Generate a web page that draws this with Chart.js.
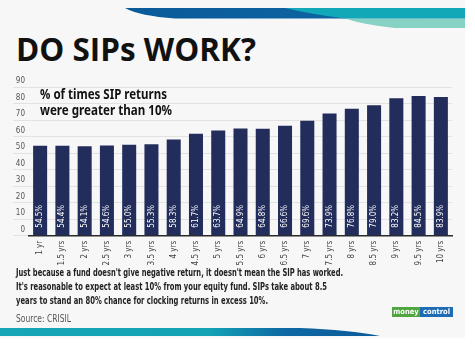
<!DOCTYPE html>
<html>
<head>
<meta charset="utf-8">
<script src="https://cdn.jsdelivr.net/npm/chart.js@4/dist/chart.umd.min.js"></script>
<style>
  html,body{margin:0;padding:0;background:#ffffff;width:475px;height:354px;overflow:hidden;}
  #panel{position:absolute;left:0;top:0;width:465px;height:338px;background:#f7f7f7;}
  .fit{position:absolute;white-space:nowrap;transform-origin:0 0;}
  #title{left:16px;top:29px;font-family:"Open Sans",sans-serif;font-weight:700;font-size:33px;color:#111;line-height:40px;}
  .inset{left:40px;font-family:"Noto Sans",sans-serif;font-weight:bold;font-size:13.5px;color:#111;line-height:16px;}
  .note{left:16px;font-family:"Liberation Sans Narrow","DejaVu Sans Condensed",sans-serif;font-weight:bold;font-size:10px;color:#222;line-height:12px;}
  #src{left:16px;top:313px;font-family:"Liberation Sans Narrow","DejaVu Sans Condensed",sans-serif;font-size:10px;color:#555;line-height:12px;}
  #logo{position:absolute;left:392px;top:307px;height:10px;font-family:"DejaVu Sans Condensed",sans-serif;font-weight:bold;font-size:7.5px;line-height:10px;color:#fff;display:flex;}
  #logo span{display:block;text-align:center;overflow:hidden;}
  canvas{position:absolute;left:0;top:70px;}
  svg{position:absolute;left:0;top:0;}
</style>
</head>
<body>
<div id="panel"></div>
<svg width="475" height="354">
  <defs>
    <linearGradient id="tg" x1="0" x2="1" y1="0" y2="0">
      <stop offset="0" stop-color="#0a5a98"/>
      <stop offset="1" stop-color="#0e6aa6"/>
    </linearGradient>
    <linearGradient id="bg" x1="0" x2="1" y1="0" y2="0">
      <stop offset="0" stop-color="#16a6b6"/>
      <stop offset="0.55" stop-color="#14a2b5"/>
      <stop offset="0.75" stop-color="#0d68a4"/>
      <stop offset="1" stop-color="#0b5a98"/>
    </linearGradient>
  </defs>
  <path d="M125,8 L465,8 L465,18.5 L175,18.5 Q140,16 125,8 Z" fill="url(#tg)"/>
  <path d="M285,8 L465,8 L465,18.5 L345,18.5 Q310,14 285,8 Z" fill="#12a8b8"/>
  <path d="M345,18.5 L465,18.5 L465,28 L395,28 Q365,25 345,18.5 Z" fill="#86d2c5"/>
  <path d="M0,328 L300,328 Q350,330 380,336 L0,336 Z" fill="url(#bg)"/>
</svg>
<div id="title" class="fit" data-w="240">DO SIPs WORK?</div>
<canvas id="c" width="465" height="200"></canvas>
<div class="fit inset" style="top:86px" data-w="127">% of times SIP returns</div>
<div class="fit inset" style="top:102px" data-w="132">were greater than 10%</div>
<div class="fit note" style="top:267px" data-w="327">Just because a fund doesn't give negative return, it doesn't mean the SIP has worked.</div>
<div class="fit note" style="top:281px" data-w="311">It's reasonable to expect at least 10% from your equity fund. SIPs take about 8.5</div>
<div class="fit note" style="top:295px" data-w="252">years to stand an 80% chance for clocking returns in excess 10%.</div>
<div id="src" class="fit" data-w="55">Source: CRISIL</div>
<div id="logo"><span style="background:#4fa63f;width:28px">money</span><span style="background:#1d6cb4;width:33px">control</span></div>
<script>
const categories = ['1 yr','1.5 yrs','2 yrs','2.5 yrs','3 yrs','3.5 yrs','4 yrs','4.5 yrs','5 yrs','5.5 yrs','6 yrs','6.5 yrs','7 yrs','7.5 yrs','8 yrs','8.5 yrs','9 yrs','9.5 yrs','10 yrs'];
const values = [54.5,54.4,54.1,54.6,55.0,55.3,58.3,61.7,63.7,64.9,64.8,66.6,69.6,73.9,76.8,79.0,83.2,84.5,83.9];
const yTicks = [0,10,20,30,40,50,60,70,80,90];

// fit text widths
document.querySelectorAll('.fit').forEach(el=>{
  const target = parseFloat(el.dataset.w);
  const w = el.getBoundingClientRect().width;
  if (target && w) el.style.transform = 'scaleX(' + (target/w) + ')';
});

const chartFont = '"Liberation Sans Narrow","DejaVu Sans Condensed",sans-serif';

const valueLabels = {
  id:'valueLabels',
  afterDatasetsDraw(chart){
    const ctx = chart.ctx;
    const meta = chart.getDatasetMeta(0);
    const base = chart.scales.y.getPixelForValue(0);
    ctx.save();
    ctx.fillStyle = '#ffffff';
    ctx.font = '8px ' + chartFont;
    ctx.textAlign = 'left';
    ctx.textBaseline = 'middle';
    meta.data.forEach((bar,i)=>{
      ctx.save();
      ctx.translate(bar.x, base - 8);
      ctx.rotate(-Math.PI/2);
      ctx.fillText(values[i].toFixed(1) + '%', 0, 0);
      ctx.restore();
    });
    ctx.restore();
  }
};

new Chart(document.getElementById('c'), {
  type:'bar',
  data:{
    labels: categories,
    datasets:[{
      data: values,
      backgroundColor:'#232d5c',
      borderWidth:0,
      barPercentage:0.63,
      categoryPercentage:1.0
    }]
  },
  options:{
    responsive:false,
    devicePixelRatio:1,
    animation:false,
    layout:{padding:{top:17,left:12,right:13,bottom:0}},
    plugins:{legend:{display:false},tooltip:{enabled:false}},
    scales:{
      x:{
        grid:{display:false,drawTicks:false},
        border:{display:true,color:'#2a2a2a',width:1.5},
        ticks:{
          color:'#444',
          font:{family:chartFont,size:8},
          minRotation:90,maxRotation:90,
          padding:5,
          autoSkip:false
        },
        afterFit(s){ s.height = 34.3; }
      },
      y:{
        min:0,max:90,
        afterBuildTicks(s){ s.ticks = yTicks.map(v=>({value:v})); },
        grid:{color:'#e2e2e2',lineWidth:1,drawTicks:true,tickLength:16},
        border:{display:false},
        ticks:{
          color:'#555',
          font:{family:chartFont,size:8},
          padding:-12,
          labelOffset:-6
        },
        afterFit(s){ s.width = 17; }
      }
    }
  },
  plugins:[valueLabels]
});
</script>
</body>
</html>
